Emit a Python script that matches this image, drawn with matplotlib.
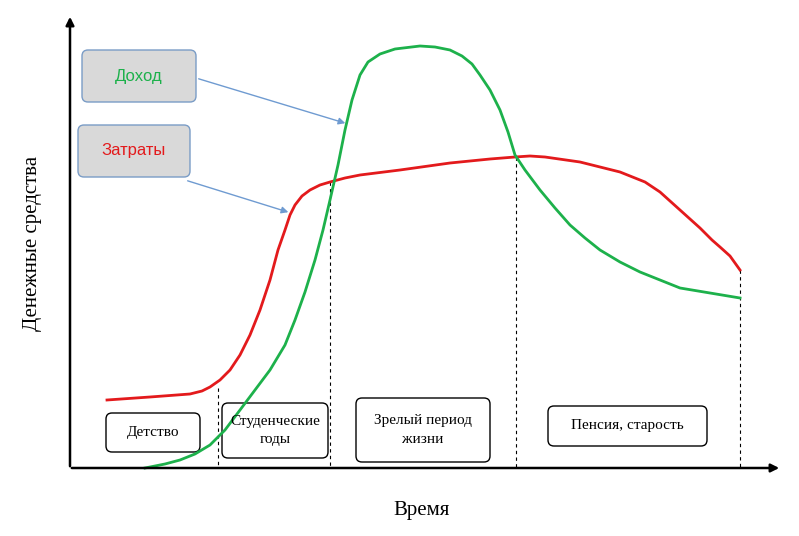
import matplotlib.pyplot as plt
from matplotlib.patches import FancyBboxPatch

plt.rcParams['font.family'] = ['Liberation Serif', 'DejaVu Serif']

# curve points (pixel coordinates)
red_x = [107, 150, 190, 202, 210, 220, 230, 240, 250, 260, 270, 278, 285, 290, 295, 302, 310, 320, 330, 345,
         360, 400, 450, 490, 515, 530, 545, 580, 620, 645, 660, 680, 700, 712, 720, 730, 740]
red_y = [400, 397, 394, 391, 387, 380, 370, 355, 335, 310, 280, 250, 230, 215, 205, 196, 190, 185, 182, 178,
         175, 170, 163, 159, 157, 156, 157, 162, 172, 182, 192, 210, 228, 240, 247, 256, 270]
green_x = [145, 165, 180, 195, 210, 225, 240, 255, 270, 285, 295, 305, 315, 323, 330, 338, 345, 352, 360, 368,
           380, 395, 420, 435, 450, 462, 472, 480, 490, 500, 508, 515, 525, 540, 555, 570, 585, 600, 620,
           640, 660, 680, 710, 740]
green_y = [468, 464, 460, 454, 445, 430, 410, 390, 370, 345, 320, 292, 260, 230, 200, 165, 130, 100, 75, 62,
           54, 49, 46, 47, 50, 56, 64, 75, 90, 110, 132, 155, 170, 190, 208, 225, 238, 250, 262,
           272, 280, 288, 293, 298]
dash_x = [218, 330, 516, 740]
dash_top = [388, 182, 157, 270]

stages = ["Детство", "Студенческие\nгоды", "Зрелый период\nжизни", "Пенсия, старость"]
stage_boxes = [(106, 413, 94, 39), (222, 403, 106, 55), (356, 398, 134, 64), (548, 406, 159, 40)]

fig = plt.figure(figsize=(7.99, 5.36), dpi=100)
ax = fig.add_axes([0, 0, 1, 1])
ax.set_xlim(0, 799)
ax.set_ylim(536, 0)
ax.axis('off')

# axes with arrows
ax.annotate('', xy=(70, 14), xytext=(70, 469),
            arrowprops=dict(arrowstyle='-|>', color='black', lw=1.8, mutation_scale=12))
ax.annotate('', xy=(782, 468), xytext=(69, 468),
            arrowprops=dict(arrowstyle='-|>', color='black', lw=1.8, mutation_scale=12))

for x, t in zip(dash_x, dash_top):
    ax.plot([x, x], [t, 468], ls=(0, (3, 3)), color='black', lw=0.8)

ax.plot(red_x, red_y, color='#e31a1c', lw=2, solid_joinstyle='round')
ax.plot(green_x, green_y, color='#1db14b', lw=2, solid_joinstyle='round')

for (x, y, w, h), s in zip(stage_boxes, stages):
    ax.add_patch(FancyBboxPatch((x, y), w, h, boxstyle='round,pad=0,rounding_size=6',
                                fc='white', ec='black', lw=1))
    ax.text(x + w / 2, y + h / 2, s, ha='center', va='center', fontsize=11, linespacing=1.6)

# legend-like boxes
for (x, y, w, h), s, c in [((82, 50, 114, 52), "Доход", '#1db14b'),
                           ((78, 125, 112, 52), "Затраты", '#e31a1c')]:
    ax.add_patch(FancyBboxPatch((x, y), w, h, boxstyle='round,pad=0,rounding_size=6',
                                fc='#d9d9d9', ec='#7a9cc6', lw=1))
    ax.text(x + w / 2, y + h / 2, s, ha='center', va='center', fontsize=12, color=c,
            family=['Liberation Sans', 'DejaVu Sans'])

ax.annotate('', xy=(348, 124), xytext=(196, 78),
            arrowprops=dict(arrowstyle='-|>', color='#6f9bd1', lw=1))
ax.annotate('', xy=(291, 213), xytext=(185, 180),
            arrowprops=dict(arrowstyle='-|>', color='#6f9bd1', lw=1))

ax.text(422, 510, "Время", ha='center', va='center', fontsize=15)
ax.text(33, 243, "Денежные средства", ha='center', va='center', fontsize=15, rotation=90)

fig.savefig('out.png', dpi=100)
